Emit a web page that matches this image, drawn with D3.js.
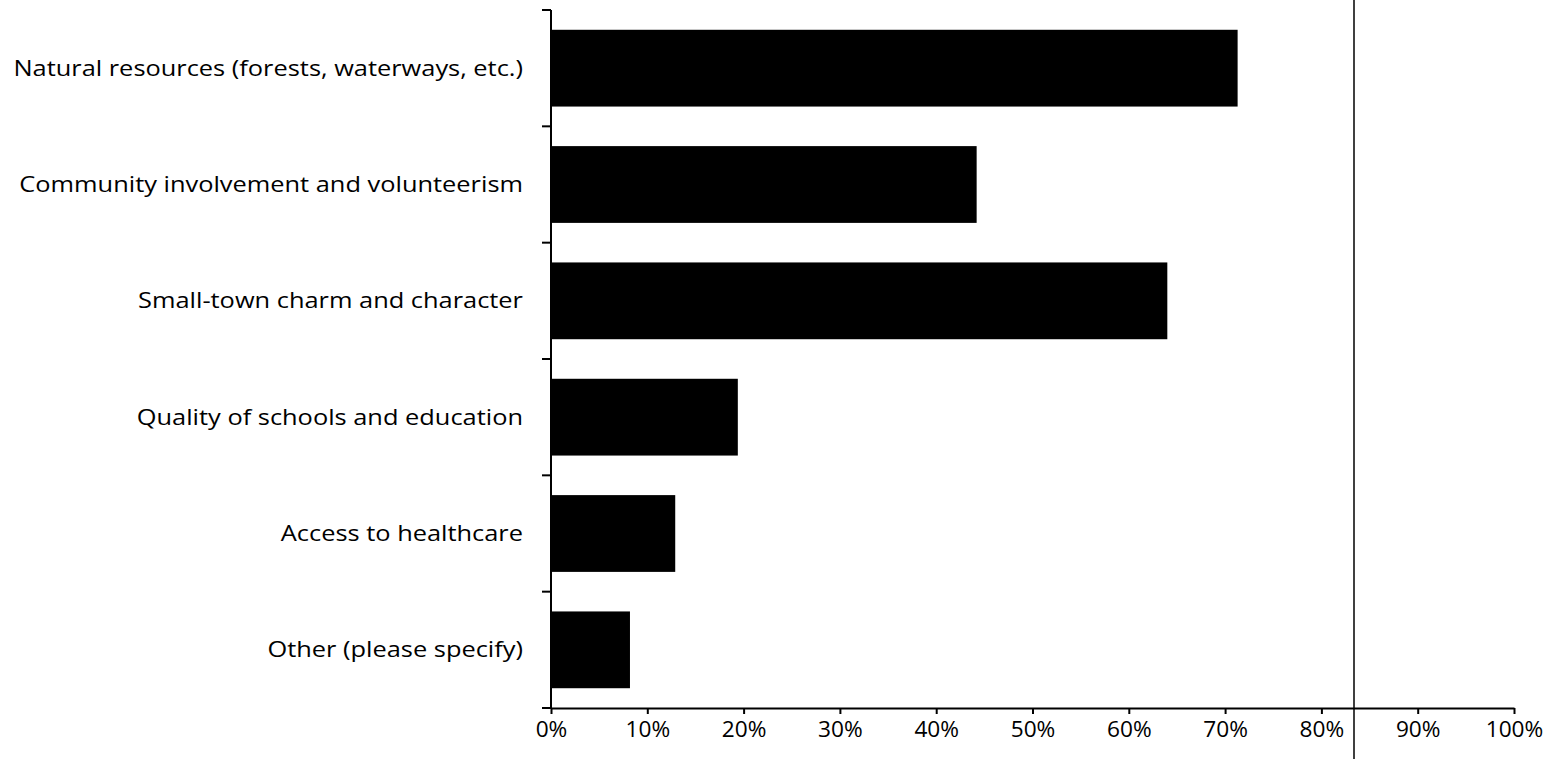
<!DOCTYPE html>
<html>
<head>
<meta charset="utf-8">
<script src="https://cdn.jsdelivr.net/npm/d3@7"></script>
<style>
  html, body { margin: 0; padding: 0; background: #fff; }
  svg { display: block; }
  text { font-family: "Open Sans", Lato, sans-serif; fill: #000; }
</style>
</head>
<body>
<svg id="chart" width="1555" height="759"></svg>
<script>
const categories = [
  "Natural resources (forests, waterways, etc.)",
  "Community involvement and volunteerism",
  "Small-town charm and character",
  "Quality of schools and education",
  "Access to healthcare",
  "Other (please specify)"
];
const values = [71.3, 44.2, 64.0, 19.4, 12.9, 8.2];
const tickValues = [0, 10, 20, 30, 40, 50, 60, 70, 80, 90, 100];

const svg = d3.select("#chart");
const mLeft = 551, mRight = 1514, mTop = 10, mBottom = 708;
const FONT = "'Open Sans', Lato, sans-serif";

const x = d3.scaleLinear().domain([0, 100]).range([mLeft, mRight]);
const y = d3.scaleBand().domain(categories).range([mTop, mBottom]).paddingInner(0.34).paddingOuter(0.17);

// bars
svg.append("g").selectAll("rect")
  .data(categories)
  .join("rect")
  .attr("x", x(0))
  .attr("y", d => y(d))
  .attr("width", (d, i) => x(values[i]) - x(0))
  .attr("height", y.bandwidth())
  .attr("fill", "#000");

// x axis
const xAxis = d3.axisBottom(x).tickValues(tickValues).tickFormat(d => d + "%").tickSize(6).tickSizeOuter(0);
const gx = svg.append("g").attr("transform", `translate(0,${mBottom})`).call(xAxis);
gx.select(".domain").attr("stroke", "#000").attr("stroke-width", 2);
gx.selectAll(".tick line").attr("stroke", "#000").attr("stroke-width", 2);
gx.selectAll(".tick text")
  .attr("font-size", 22).attr("font-family", FONT).attr("fill", "#000")
  .attr("y", 0).attr("dy", "0.35em")
  .attr("transform", "translate(0,21) scale(1.03,1)");

// y axis (boundaries between categories as ticks)
const yEdges = d3.range(categories.length + 1).map(i => mTop + i * (mBottom - mTop) / categories.length);
svg.append("line").attr("x1", mLeft).attr("x2", mLeft).attr("y1", mTop).attr("y2", mBottom)
  .attr("stroke", "#000").attr("stroke-width", 2);
svg.append("g").selectAll("line").data(yEdges).join("line")
  .attr("x1", mLeft - 9).attr("x2", mLeft).attr("y1", d => d).attr("y2", d => d)
  .attr("stroke", "#000").attr("stroke-width", 2);

// category labels
const labels = svg.append("g").selectAll("text").data(categories).join("text")
  .attr("x", 0)
  .attr("y", 0)
  .attr("dy", "0.35em")
  .attr("text-anchor", "end")
  .attr("font-size", 21.5)
  .text(d => d);
const targetWidth = 510;
const w0 = labels.node().getComputedTextLength();
const sx = w0 > 0 ? targetWidth / w0 : 1;
labels.attr("transform", d => `translate(523,${y(d) + y.bandwidth() / 2}) scale(${sx},1)`);

// scan artifact vertical line
svg.append("line").attr("x1", 1354).attr("x2", 1354).attr("y1", 0).attr("y2", 759)
  .attr("stroke", "#000").attr("stroke-width", 1.5);
</script>
</body>
</html>
